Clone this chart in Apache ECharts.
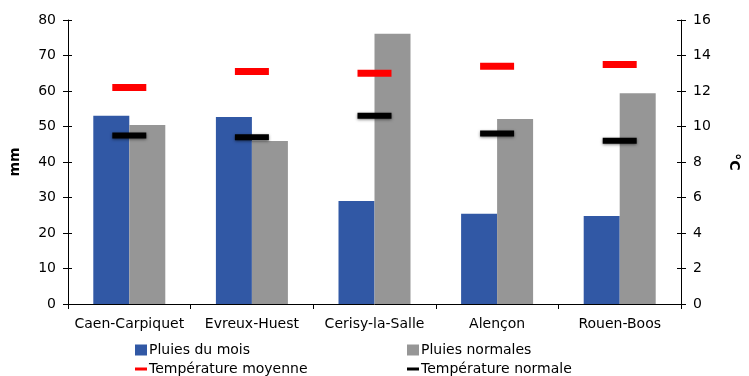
<!DOCTYPE html>
<html>
<head>
<meta charset="utf-8">
<script src="https://cdn.jsdelivr.net/npm/echarts@6/dist/echarts.min.js"></script>
<style>
  html, body { margin: 0; padding: 0; background: #fff; }
  #chart { width: 749px; height: 376px; }
</style>
</head>
<body>
<div id="chart"></div>
<script>
// stations et valeurs
const stations = ['Caen-Carpiquet', 'Evreux-Huest', 'Cerisy-la-Salle', 'Alençon', 'Rouen-Boos'];
const pluiesMois = [53.0, 52.7, 29.0, 25.4, 24.8];
const pluiesNormales = [50.4, 45.9, 76.1, 52.1, 59.4];
const tempMoyenne = [12.2, 13.1, 13.0, 13.4, 13.5];
const tempNormale = [9.5, 9.4, 10.6, 9.6, 9.2];

const font = '"DejaVu Sans", sans-serif';
const chart = echarts.init(document.getElementById('chart'));

const axisLine = { show: true, lineStyle: { color: '#000', width: 1 } };
const axisTick = { show: true, length: 5, lineStyle: { color: '#000' } };
const innerTick = { show: true, inside: true, length: 4, lineStyle: { color: '#000' } };
const legendText = { fontSize: 14, color: '#000', fontFamily: font, padding: [0, 0, 0, -3] };

function legendItem(name, left, top, h) {
    return {
        left: left, top: top, padding: 0,
        itemWidth: 12, itemHeight: h,
        textStyle: legendText,
        data: [{ name: name, icon: 'rect' }]
    };
}

// axe doublé sans libellés pour avoir des graduations des deux côtés
function tickOnly(axis) {
    return Object.assign({}, axis, {
        name: '', axisLine: { show: false }, axisTick: innerTick,
        axisLabel: { show: false }, splitLine: { show: false }
    });
}

const xMain = {
    type: 'category',
    data: stations,
    axisLine: axisLine,
    axisTick: axisTick,
    axisLabel: { fontSize: 14, color: '#000', margin: 13, interval: 0 }
};
const yMm = {
    type: 'value',
    position: 'left',
    min: 0, max: 80, interval: 10,
    name: 'mm',
    nameLocation: 'middle',
    nameGap: 46,
    nameTextStyle: { fontSize: 14, fontWeight: 'bold', color: '#000' },
    axisLine: axisLine,
    axisTick: axisTick,
    splitLine: { show: false },
    axisLabel: { fontSize: 14, color: '#000', margin: 12 }
};
const yDeg = {
    type: 'value',
    position: 'right',
    min: 0, max: 16, interval: 2,
    name: '°C',
    nameLocation: 'middle',
    nameGap: 46,
    nameRotate: -90,
    nameTextStyle: { fontSize: 14, fontWeight: 'bold', color: '#000' },
    axisLine: axisLine,
    axisTick: axisTick,
    splitLine: { show: false },
    axisLabel: { fontSize: 14, color: '#000', margin: 12 }
};

chart.setOption({
    animation: false,
    textStyle: { fontFamily: font },
    grid: { left: 68, right: 63, top: 20, bottom: 72 },
    legend: [
        legendItem('Pluies du mois', 135, 343, 11),
        legendItem('Pluies normales', 407, 343, 11),
        legendItem('Température moyenne', 135, 362, 3),
        legendItem('Température normale', 407, 362, 3)
    ],
    xAxis: [xMain, tickOnly(xMain)],
    yAxis: [yMm, yDeg, tickOnly(yMm), tickOnly(yDeg)],
    series: [{
        name: 'Pluies du mois',
        type: 'bar',
        data: pluiesMois,
        barWidth: 36,
        barGap: '0%',
        itemStyle: { color: '#3158a5' }
    }, {
        name: 'Pluies normales',
        type: 'bar',
        data: pluiesNormales,
        barWidth: 36,
        barGap: '0%',
        itemStyle: { color: '#969696' }
    }, {
        name: 'Température moyenne',
        type: 'scatter',
        yAxisIndex: 1,
        data: tempMoyenne,
        symbol: 'rect',
        symbolSize: [34, 7],
        itemStyle: { color: '#ff0000', opacity: 1 },
        z: 5
    }, {
        name: 'Température normale',
        type: 'scatter',
        yAxisIndex: 1,
        data: tempNormale,
        symbol: 'rect',
        symbolSize: [34, 6],
        itemStyle: { color: '#000', opacity: 1, shadowColor: 'rgba(0,0,0,0.5)', shadowBlur: 3, shadowOffsetY: 1 },
        z: 5
    }]
});
</script>
</body>
</html>
